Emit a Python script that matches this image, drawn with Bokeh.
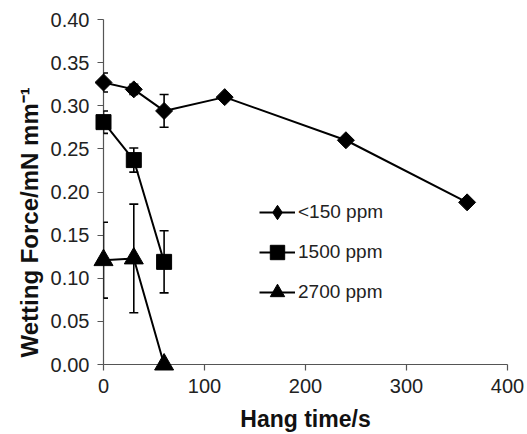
import numpy as np
from bokeh.plotting import figure
from bokeh.models import (ColumnDataSource, Whisker, TeeHead, Legend, LegendItem,
                          NumeralTickFormatter, FixedTicker, Range1d, Title)
from bokeh.embed import file_html
from bokeh.resources import INLINE

# ---- data ----
series_names = ["<150 ppm", "1500 ppm", "2700 ppm"]

t_low = [0, 30, 60, 120, 240, 360]
f_low = [0.327, 0.319, 0.294, 0.310, 0.260, 0.188]
e_low = [0.011, 0.006, 0.019, 0.0, 0.0, 0.0]

t_mid = [0, 30, 60]
f_mid = [0.281, 0.237, 0.119]
e_mid = [0.013, 0.014, 0.036]

t_high = [0, 30, 60]
f_high = [0.121, 0.123, 0.0]
e_high = [0.044, 0.063, 0.0]

x_ticks = [0, 100, 200, 300, 400]
y_ticks = [0.0, 0.05, 0.10, 0.15, 0.20, 0.25, 0.30, 0.35, 0.40]

x_title = "Hang time/s"
y_title = "Wetting Force/mN mm\u207b\u00b9"

FONT = "Liberation Sans"

p = figure(width=527, height=434, output_backend="svg", toolbar_location=None,
           x_range=Range1d(0, 400), y_range=Range1d(0, 0.40),
           min_border_left=103, min_border_right=20, min_border_top=19,
           min_border_bottom=69)
p.xgrid.visible = False
p.ygrid.visible = False
p.outline_line_color = None
p.background_fill_color = "white"
p.border_fill_color = "white"

for ax in (p.xaxis[0], p.yaxis[0]):
    ax.axis_line_color = "#555555"
    ax.axis_line_width = 1.2
    ax.major_tick_line_color = "#555555"
    ax.major_tick_line_width = 1.2
    ax.major_tick_out = 6
    ax.major_tick_in = 0
    ax.minor_tick_line_color = None
    ax.major_label_text_font = FONT
    ax.major_label_text_font_size = "20px"
    ax.major_label_text_color = "#222222"
    ax.axis_label_text_font = FONT
    ax.axis_label_text_font_style = "bold"
    ax.axis_label_text_font_size = "23px"
    ax.axis_label_text_color = "#111111"

p.xaxis.ticker = FixedTicker(ticks=x_ticks)
p.yaxis.ticker = FixedTicker(ticks=y_ticks)
p.yaxis.formatter = NumeralTickFormatter(format="0.00")
p.xaxis.axis_label = x_title
p.xaxis.major_label_standoff = 8
p.yaxis.major_label_standoff = 8
p.xaxis.axis_label_standoff = 10

# y title as a side-panel title, anchored near the bottom of the axis as in the reference
p.add_layout(Title(text=y_title, align="left", offset=7, standoff=9,
                   text_font=FONT, text_font_style="bold", text_font_size="24px",
                   text_color="#111111"), "left")

series = [
    (t_low, f_low, e_low, dict(marker="square", angle=np.pi / 4, size=12)),
    (t_mid, f_mid, e_mid, dict(marker="square", size=15)),
    (t_high, f_high, e_high, dict(marker="triangle", size=19)),
]
legend_markers = ["diamond", "square", "triangle"]

items = []
for name, (t, f, e, mk), lm in zip(series_names, series, legend_markers):
    t = np.array(t, dtype=float)
    f = np.array(f, dtype=float)
    e = np.array(e, dtype=float)
    has = e > 0
    if has.any():
        wsrc = ColumnDataSource(dict(x=t[has], lo=(f - e)[has], hi=(f + e)[has]))
        w = Whisker(source=wsrc, base="x", lower="lo", upper="hi",
                    line_color="black", line_width=1.6, level="overlay",
                    lower_head=TeeHead(size=9, line_color="black", line_width=1.6),
                    upper_head=TeeHead(size=9, line_color="black", line_width=1.6))
        p.add_layout(w)
    src = ColumnDataSource(dict(x=t, y=f))
    ln = p.line("x", "y", source=src, line_color="black", line_width=2, level="overlay")
    p.scatter("x", "y", source=src, fill_color="black", line_color="black",
              level="overlay", **mk)
    # legend-only marker (legend draws markers unrotated); NaN so nothing is plotted
    lg = p.scatter(x=[np.nan], y=[np.nan], marker=lm, fill_color="black",
                   line_color="black")
    items.append(LegendItem(label=name, renderers=[ln, lg]))

legend = Legend(items=items, location=(156, 54), orientation="vertical",
                glyph_width=36, glyph_height=36, label_height=36,
                spacing=4, padding=0, margin=0, label_standoff=3,
                label_text_font=FONT, label_text_font_size="19px",
                label_text_color="#222222",
                background_fill_alpha=0, border_line_color=None)
p.add_layout(legend, "center")

open("out.html", "w").write(file_html(p, INLINE))
